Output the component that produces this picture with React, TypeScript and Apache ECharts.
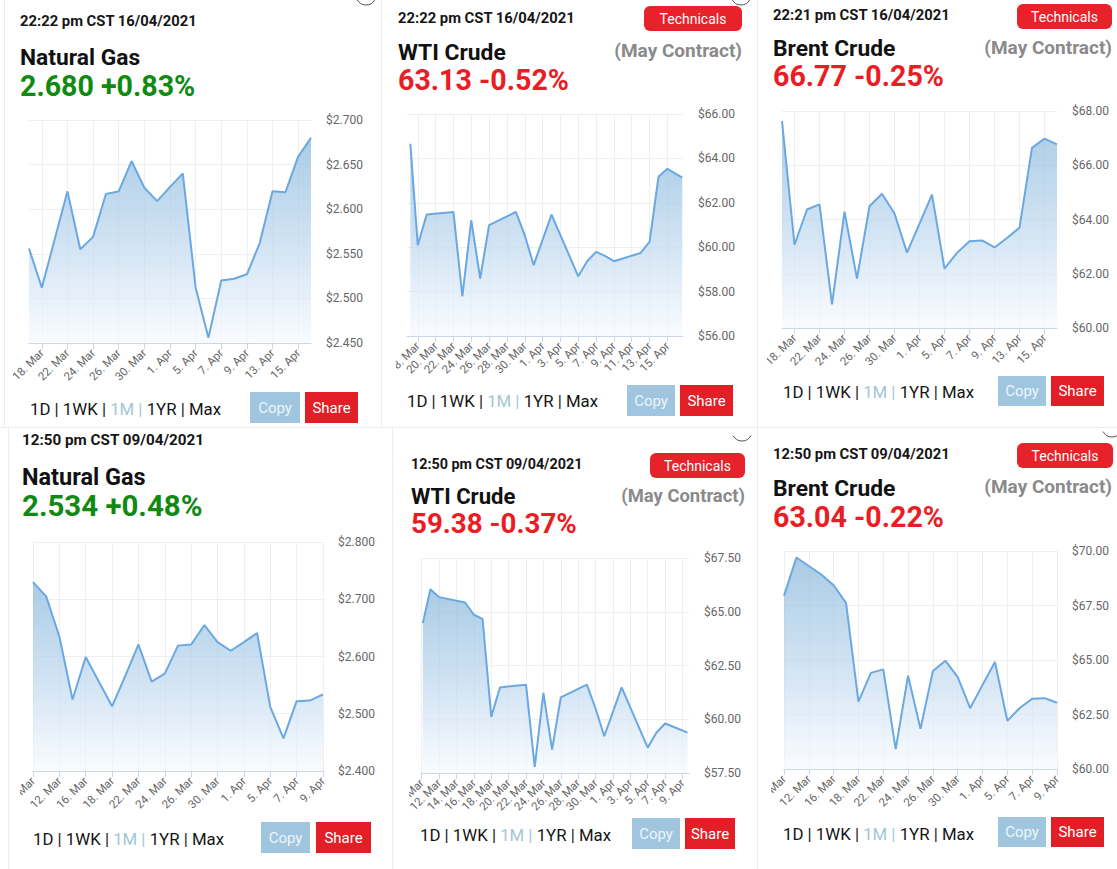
import React, { useEffect, useRef } from 'react';
import * as echarts from 'echarts';

// ---------- DATA ----------
const MONTHS = ['Jan', 'Feb', 'Mar', 'Apr', 'May', 'Jun', 'Jul', 'Aug', 'Sep', 'Oct', 'Nov', 'Dec'];

// trading days (Natural Gas / Brent, snapshot 16/04/2021)
const TRADING_DAYS_TO_APR16 = [
  '17. Mar', '18. Mar', '19. Mar', '22. Mar', '23. Mar', '24. Mar', '25. Mar', '26. Mar', '29. Mar', '30. Mar',
  '31. Mar', '1. Apr', '2. Apr', '5. Apr', '6. Apr', '7. Apr', '8. Apr', '9. Apr', '12. Apr', '13. Apr',
  '14. Apr', '15. Apr', '16. Apr',
];
const NATGAS_TO_APR16 = [
  2.556, 2.512, 2.566, 2.620, 2.555, 2.569, 2.617, 2.620, 2.654, 2.624,
  2.609, 2.625, 2.640, 2.512, 2.456, 2.520, 2.522, 2.527, 2.562, 2.620,
  2.619, 2.659, 2.680,
];
const BRENT_TO_APR16 = [
  67.63, 63.07, 64.37, 64.56, 60.87, 64.29, 61.82, 64.49, 64.95, 64.22,
  62.78, 63.85, 64.92, 62.19, 62.77, 63.20, 63.23, 62.97, 63.32, 63.70,
  66.64, 66.98, 66.77,
];

// trading days (Natural Gas / Brent, snapshot 09/04/2021)
const TRADING_DAYS_TO_APR09 = [
  '10. Mar', '11. Mar', '12. Mar', '15. Mar', '16. Mar', '17. Mar', '18. Mar', '19. Mar', '22. Mar', '23. Mar',
  '24. Mar', '25. Mar', '26. Mar', '29. Mar', '30. Mar', '31. Mar', '1. Apr', '2. Apr', '5. Apr', '6. Apr',
  '7. Apr', '8. Apr', '9. Apr',
];
const NATGAS_TO_APR09 = [
  2.730, 2.705, 2.635, 2.525, 2.599, 2.556, 2.513, 2.566, 2.621, 2.556,
  2.570, 2.619, 2.621, 2.655, 2.625, 2.610, 2.625, 2.641, 2.512, 2.457,
  2.522, 2.523, 2.534,
];
const BRENT_TO_APR09 = [
  67.94, 69.70, 69.31, 68.92, 68.43, 67.62, 63.09, 64.41, 64.57, 60.91,
  64.28, 61.84, 64.50, 64.97, 64.21, 62.79, 63.86, 64.91, 62.21, 62.80,
  63.22, 63.25, 63.04,
];

// WTI (calendar time axis)
const WTI_TO_APR16_TIMES = [
  '2021-03-17T04', '2021-03-18', '2021-03-19', '2021-03-22', '2021-03-23', '2021-03-24', '2021-03-25',
  '2021-03-26', '2021-03-29', '2021-03-30', '2021-03-31', '2021-04-02', '2021-04-05', '2021-04-06',
  '2021-04-07', '2021-04-08', '2021-04-09', '2021-04-12', '2021-04-13', '2021-04-14', '2021-04-15',
  '2021-04-16T16',
];
const WTI_TO_APR16_VALUES = [
  64.66, 60.09, 61.47, 61.59, 57.79, 61.22, 58.59,
  60.99, 61.59, 60.54, 59.19, 61.47, 58.69, 59.37,
  59.79, 59.61, 59.37, 59.74, 60.24, 63.17, 63.53,
  63.13,
];
const WTI_TO_APR16_TICKS = [
  '2021-03-18', '2021-03-20', '2021-03-22', '2021-03-24', '2021-03-26', '2021-03-28', '2021-03-30',
  '2021-04-01', '2021-04-03', '2021-04-05', '2021-04-07', '2021-04-09', '2021-04-11', '2021-04-13', '2021-04-15',
];
const WTI_TO_APR16_RANGE = ['2021-03-16T19', '2021-04-16T18'];

const WTI_TO_APR09_TIMES = [
  '2021-03-10T03', '2021-03-11', '2021-03-12', '2021-03-15', '2021-03-16', '2021-03-17', '2021-03-18',
  '2021-03-19', '2021-03-22', '2021-03-23', '2021-03-24', '2021-03-25', '2021-03-26', '2021-03-29',
  '2021-03-30', '2021-03-31', '2021-04-02', '2021-04-05', '2021-04-06', '2021-04-07', '2021-04-08',
  '2021-04-09T14',
];
const WTI_TO_APR09_VALUES = [
  64.47, 66.05, 65.68, 65.43, 64.86, 64.67, 60.11,
  61.48, 61.61, 57.78, 61.23, 58.59, 61.02, 61.61,
  60.50, 59.21, 61.48, 58.68, 59.37, 59.80, 59.64,
  59.38,
];
const WTI_TO_APR09_TICKS = [
  '2021-03-10', '2021-03-12', '2021-03-14', '2021-03-16', '2021-03-18', '2021-03-20', '2021-03-22', '2021-03-24',
  '2021-03-26', '2021-03-28', '2021-03-30', '2021-04-01', '2021-04-03', '2021-04-05', '2021-04-07', '2021-04-09',
];
const WTI_TO_APR09_RANGE = ['2021-03-09T22', '2021-04-09T18'];

// ---------- HELPERS ----------
function ts(s: string): number {
  const [d, h] = s.split('T');
  const [y, m, dd] = d.split('-').map(Number);
  return Date.UTC(y, m - 1, dd, h ? Number(h) : 0);
}
function dayLabel(v: number): string {
  const d = new Date(v);
  return `${d.getUTCDate()}. ${MONTHS[d.getUTCMonth()]}`;
}

type Rect4 = [number, number, number, number];
interface PanelCfg {
  box: Rect4; // left, top, width, height (page px)
  k: number; // text scale
  stamp: string; stampPos: [number, number];
  name: string; namePos: [number, number];
  quote: string; quoteColor: string; quotePos: [number, number];
  contract?: [number, number];
  technicals?: Rect4;
  knob?: [number, number];
  grid: Rect4; // x0,y0,x1,y1
  yMin: number; yMax: number; yStep: number; yDec: number;
  periods: [number, number];
  copy: Rect4; share: Rect4;
  cats?: string[]; catPhase?: number;
  times?: string[]; ticks?: string[]; range?: string[];
  values: number[];
}

const FONT = 'Roboto, "Noto Sans", sans-serif';
const GRID_LINE = '#efefef';
const AXIS_LINE = '#ccd6eb';
const LINE_COLOR = '#6aa8e2';

const PANELS: PanelCfg[] = [
  {
    box: [13, 0, 368, 428], k: 1,
    stamp: '22:22 pm CST 16/04/2021', stampPos: [20, 21],
    name: 'Natural Gas', namePos: [20, 57],
    quote: '2.680 +0.83%', quoteColor: '#118a12', quotePos: [20, 86],
    knob: [366, -5],
    grid: [29, 120, 311, 343],
    yMin: 2.45, yMax: 2.7, yStep: 0.05, yDec: 3,
    periods: [30, 409], copy: [250, 392, 300, 423], share: [305, 392, 358, 423],
    cats: TRADING_DAYS_TO_APR16, catPhase: 1, values: NATGAS_TO_APR16,
  },
  {
    box: [396, 0, 362, 428], k: 1,
    stamp: '22:22 pm CST 16/04/2021', stampPos: [398, 18],
    name: 'WTI Crude', namePos: [398, 52],
    quote: '63.13 -0.52%', quoteColor: '#ec1c24', quotePos: [398, 80],
    contract: [742, 50], technicals: [644, 6, 742, 31], knob: [741, -5],
    grid: [407, 114, 683, 336],
    yMin: 56, yMax: 66, yStep: 2, yDec: 2,
    periods: [407, 401], copy: [627, 385, 675, 416], share: [680, 385, 733, 416],
    times: WTI_TO_APR16_TIMES, ticks: WTI_TO_APR16_TICKS, range: WTI_TO_APR16_RANGE, values: WTI_TO_APR16_VALUES,
  },
  {
    box: [767, 0, 350, 428], k: 1,
    stamp: '22:21 pm CST 16/04/2021', stampPos: [773, 15],
    name: 'Brent Crude', namePos: [773, 48],
    quote: '66.77 -0.25%', quoteColor: '#ec1c24', quotePos: [773, 76],
    contract: [1112, 47], technicals: [1017, 4, 1112, 29],
    grid: [782, 111, 1057, 328],
    yMin: 60, yMax: 68, yStep: 2, yDec: 2,
    periods: [783, 392], copy: [998, 376, 1046, 406], share: [1051, 376, 1104, 406],
    cats: TRADING_DAYS_TO_APR16, catPhase: 1, values: BRENT_TO_APR16,
  },
  {
    box: [20, 428, 371, 441], k: 1.03,
    stamp: '12:50 pm CST 09/04/2021', stampPos: [22, 440],
    name: 'Natural Gas', namePos: [22, 477],
    quote: '2.534 +0.48%', quoteColor: '#118a12', quotePos: [22, 506],
    grid: [33, 542, 323, 771],
    yMin: 2.4, yMax: 2.8, yStep: 0.1, yDec: 3,
    periods: [33, 839], copy: [261, 822, 310, 853], share: [316, 822, 371, 853],
    cats: TRADING_DAYS_TO_APR09, catPhase: 0, values: NATGAS_TO_APR09,
  },
  {
    box: [409, 428, 349, 441], k: 0.97,
    stamp: '12:50 pm CST 09/04/2021', stampPos: [411, 464],
    name: 'WTI Crude', namePos: [411, 496],
    quote: '59.38 -0.37%', quoteColor: '#ec1c24', quotePos: [411, 523],
    contract: [745, 495], technicals: [650, 453, 745, 478], knob: [742, 431],
    grid: [421, 558, 689, 773],
    yMin: 57.5, yMax: 67.5, yStep: 2.5, yDec: 2,
    periods: [420, 835], copy: [632, 818, 680, 849], share: [685, 818, 735, 849],
    times: WTI_TO_APR09_TIMES, ticks: WTI_TO_APR09_TICKS, range: WTI_TO_APR09_RANGE, values: WTI_TO_APR09_VALUES,
  },
  {
    box: [771, 428, 346, 441], k: 1,
    stamp: '12:50 pm CST 09/04/2021', stampPos: [773, 454],
    name: 'Brent Crude', namePos: [773, 488],
    quote: '63.04 -0.22%', quoteColor: '#ec1c24', quotePos: [773, 517],
    contract: [1112, 486], technicals: [1017, 443, 1113, 468], knob: [1112, 427],
    grid: [784, 551, 1057, 769],
    yMin: 60, yMax: 70, yStep: 2.5, yDec: 2,
    periods: [783, 834], copy: [998, 817, 1046, 847], share: [1051, 817, 1104, 847],
    cats: TRADING_DAYS_TO_APR09, catPhase: 0, values: BRENT_TO_APR09,
  },
];

function buildOption(p: PanelCfg): any {
  const [L, T] = p.box;
  const k = p.k;
  const g: any[] = [];
  const text = (x: number, y: number, s: string, size: number, fill: string, weight: string, align = 'left', z = 10) => ({
    type: 'text', x: x - L, y: y - T, z,
    style: {
      text: s, fill, fontSize: size, fontWeight: weight, fontFamily: FONT,
      align, textAlign: align, verticalAlign: 'middle', textVerticalAlign: 'middle',
    },
  });
  const rect = (r: Rect4, fill: string, radius: number) => ({
    type: 'rect', z: 9,
    shape: { x: r[0] - L, y: r[1] - T, width: r[2] - r[0], height: r[3] - r[1], r: radius },
    style: { fill },
  });

  g.push(text(p.stampPos[0], p.stampPos[1], p.stamp, 14.8 * k, '#161616', 'bold'));
  g.push(text(p.namePos[0], p.namePos[1], p.name, 22.8 * k, '#111111', 'bold'));
  g.push(text(p.quotePos[0], p.quotePos[1], p.quote, 28.6 * k, p.quoteColor, 'bold'));
  if (p.contract) g.push(text(p.contract[0], p.contract[1], '(May Contract)', 19 * k, '#8a8a8a', 'bold', 'right'));
  if (p.knob) {
    g.push({
      type: 'arc', z: 8,
      shape: { cx: p.knob[0] - L, cy: p.knob[1] - T, r: 10, startAngle: Math.PI * 0.15, endAngle: Math.PI * 0.85 },
      style: { stroke: '#555555', fill: 'none', lineWidth: 1 },
    });
  }
  if (p.technicals) {
    const t = p.technicals;
    g.push(rect(t, '#e8222b', 6));
    g.push(text((t[0] + t[2]) / 2, (t[1] + t[3]) / 2, 'Technicals', 14, '#ffffff', 'normal', 'center'));
  }
  // period selector
  g.push({
    type: 'text', x: p.periods[0] - L, y: p.periods[1] - T, z: 10,
    style: {
      text: '{a|1D | 1WK | }{b|1M | }{a|1YR | Max}',
      fontSize: 16.8, fontFamily: FONT, verticalAlign: 'middle', textVerticalAlign: 'middle',
      rich: {
        a: { fill: '#151515', fontSize: 16.8, fontFamily: FONT },
        b: { fill: '#a3c6d6', fontSize: 16.8, fontFamily: FONT },
      },
    },
  });
  const c = p.copy, s = p.share;
  g.push(rect(c, '#9fc6de', 0));
  g.push(text((c[0] + c[2]) / 2, (c[1] + c[3]) / 2, 'Copy', 15, '#eef5fa', 'normal', 'center'));
  g.push(rect(s, '#e21f27', 0));
  g.push(text((s[0] + s[2]) / 2, (s[1] + s[3]) / 2, 'Share', 15, '#ffffff', 'normal', 'center'));

  const gr = p.grid;
  const labelStyle = { color: '#666666', fontSize: 11.5, fontFamily: FONT };
  let xAxis: any;
  let data: any[];
  if (p.cats) {
    const phase = p.catPhase || 0;
    const iv = (idx: number) => idx % 2 === phase;
    xAxis = {
      type: 'category', data: p.cats, boundaryGap: false,
      axisLine: { lineStyle: { color: AXIS_LINE } },
      axisTick: { interval: iv, length: 6, lineStyle: { color: AXIS_LINE } },
      axisLabel: { ...labelStyle, interval: iv, rotate: 45, margin: 8 },
      splitLine: { show: true, interval: iv, lineStyle: { color: GRID_LINE } },
    };
    data = p.values;
  } else {
    const tickVals = (p.ticks || []).map(ts);
    xAxis = {
      type: 'value', min: ts(p.range![0]), max: ts(p.range![1]),
      axisLine: { lineStyle: { color: AXIS_LINE } },
      axisTick: { customValues: tickVals, length: 6, lineStyle: { color: AXIS_LINE } },
      axisLabel: {
        ...labelStyle, customValues: tickVals, rotate: 45, margin: 8, hideOverlap: false,
        showMinLabel: true, showMaxLabel: true, formatter: (v: number) => dayLabel(v),
      },
      splitLine: { show: true, lineStyle: { color: GRID_LINE } },
    };
    data = (p.times || []).map((t, i) => [ts(t), p.values[i]]);
  }

  return {
    animation: false,
    grid: {
      left: gr[0] - L, top: gr[1] - T, width: gr[2] - gr[0], height: gr[3] - gr[1],
      containLabel: false, outerBoundsMode: 'none',
    },
    xAxis,
    yAxis: {
      type: 'value', position: 'right', min: p.yMin, max: p.yMax, interval: p.yStep,
      axisLine: { show: false }, axisTick: { show: false },
      axisLabel: { color: '#666666', fontSize: 12, fontFamily: FONT, margin: 15, formatter: (v: number) => '$' + v.toFixed(p.yDec) },
      splitLine: { lineStyle: { color: GRID_LINE } },
    },
    series: [{
      type: 'line', data, showSymbol: false, symbol: 'none',
      lineStyle: { color: LINE_COLOR, width: 2 },
      areaStyle: {
        color: {
          type: 'linear', x: 0, y: 0, x2: 0, y2: 1,
          colorStops: [
            { offset: 0, color: '#86b6da' },
            { offset: 0.55, color: '#c2daf0' },
            { offset: 1, color: '#f7fafe' },
          ],
        },
      },
    }],
    graphic: { elements: g },
  };
}

function PanelChart({ cfg }: { cfg: PanelCfg }) {
  const ref = useRef<HTMLDivElement>(null);
  useEffect(() => {
    if (!ref.current) return;
    const chart = echarts.init(ref.current, undefined, { renderer: 'svg' });
    chart.setOption(buildOption(cfg));
    return () => chart.dispose();
  }, [cfg]);
  const [l, t, w, h] = cfg.box;
  return <div ref={ref} style={{ position: 'absolute', left: l, top: t, width: w, height: h, overflow: 'hidden' }} />;
}

const SEPARATORS: Rect4[] = [
  [4, 0, 1, 428],
  [381, 0, 1, 428],
  [757, 0, 1, 428],
  [0, 427, 1117, 1],
  [8, 428, 1, 441],
  [392, 428, 1, 441],
  [757, 428, 1, 441],
];

export default function App() {
  return (
    <div style={{ position: 'fixed', left: 0, top: 0, width: 1117, height: 869, background: '#ffffff', overflow: 'hidden' }}>
      {SEPARATORS.map((r, i) => (
        <div key={i} style={{ position: 'absolute', left: r[0], top: r[1], width: r[2], height: r[3], background: '#ececec' }} />
      ))}
      {PANELS.map((p, i) => <PanelChart key={i} cfg={p} />)}
    </div>
  );
}
